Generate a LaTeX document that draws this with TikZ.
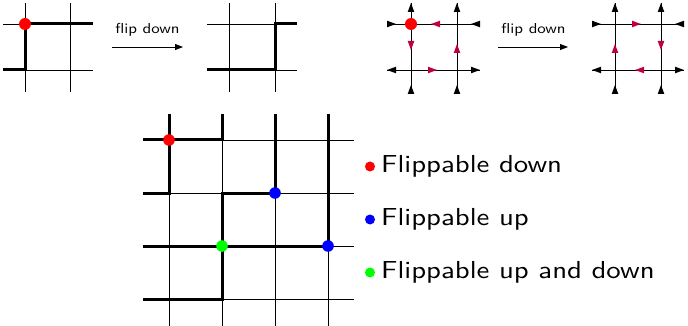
\documentclass[tikz,border=0pt]{standalone}
\usepackage{graphicx}
\usepackage{fontspec}
\newfontfamily\lmsten{lmsans10-regular.otf}
\usetikzlibrary{arrows.meta}
\newcommand\ahd[3][black]{\fill[#1,shift={(#2)},rotate=#3] (0,0) -- (-9,3.3) -- (-9,-3.3) -- cycle;}
\newcommand\wide[1]{\scalebox{1.17}[1]{#1}}
\begin{document}
\begin{tikzpicture}[x=1pt,y=-1pt,
  gridln/.style={line width=0.9pt,black},
  pathln/.style={line width=3pt,black},
  flip/.style={line width=0.8pt,-{Triangle[length=8pt,width=6pt]}},
  fliptext/.style={font=\lmsten\fontsize{14.4}{17}\selectfont,inner sep=0pt,anchor=base},
  legtext/.style={font=\lmsten\fontsize{24.6}{29}\selectfont,inner sep=0pt,anchor=base west},
  rev/.style={purple}]
\useasboundingbox (0,0) rectangle (688,326);

% ---- panel 1
\foreach \x in {25,70} \draw[gridln] (\x,3) -- (\x,92);
\foreach \y in {24,70} \draw[gridln] (3,\y) -- (93,\y);
\draw[pathln] (3,70) -- (25,70) -- (25,24) -- (93,24);
\fill[red] (25,24) circle (6);

% arrow 1
\coordinate (a1s) at (112,47); \coordinate (a1e) at (183,47);
\draw[flip] (a1s) -- (a1e);
\node[fliptext] (t1) at (147.5,33.3) {\wide{flip down}};

% ---- panel 2
\foreach \x in {229,275} \draw[gridln] (\x,3) -- (\x,92);
\foreach \y in {24,70} \draw[gridln] (207,\y) -- (297,\y);
\draw[pathln] (207,70) -- (275,70) -- (275,24) -- (297,24);

% ---- panel 3
\foreach \x in {411,457} {
  \draw[gridln] (\x,3) -- (\x,94);
  \ahd{\x,3}{90}
  \ahd{\x,85}{90}
}
\foreach \y in {24,70} \draw[gridln] (387,\y) -- (480,\y);
\ahd{396,24}{0}
\ahd{471,24}{180}
\ahd{387,70}{180}
\ahd{480,70}{0}
\ahd[rev]{431,24}{180}
\ahd[rev]{411,50}{270}
\ahd[rev]{457,44}{90}
\ahd[rev]{437,70}{0}
\fill[red] (411,24) circle (6);

% arrow 2
\coordinate (a2s) at (498,47); \coordinate (a2e) at (568,47);
\draw[flip] (a2s) -- (a2e);
\node[fliptext] (t2) at (533.5,33.3) {\wide{flip down}};

% ---- panel 4
\foreach \x in {615,661} {
  \draw[gridln] (\x,3) -- (\x,94);
  \ahd{\x,3}{90}
  \ahd{\x,85}{90}
}
\foreach \y in {24,70} \draw[gridln] (592,\y) -- (684,\y);
\ahd{601,24}{0}
\ahd{675,24}{180}
\ahd{592,70}{180}
\ahd{684,70}{0}
\ahd[rev]{641,24}{0}
\ahd[rev]{615,44}{90}
\ahd[rev]{661,50}{270}
\ahd[rev]{635,70}{180}

% ---- main grid
\foreach \x in {169,222,275,328} \draw[gridln] (\x,114) -- (\x,326);
\foreach \y in {140,193,246,299} \draw[gridln] (143,\y) -- (354,\y);
\draw[pathln] (143,193) -- (169,193) -- (169,114);
\draw[pathln] (143,140) -- (222,140) -- (222,114);
\draw[pathln] (143,246) -- (222,246) -- (222,193) -- (275,193) -- (275,114);
\draw[pathln] (143,299) -- (222,299) -- (222,246) -- (328,246) -- (328,114);
\fill[red] (169,140) circle (5.8);
\fill[blue] (275,193) circle (5.8);
\fill[blue] (328,246) circle (5.8);
\fill[green] (222,246) circle (5.8);

% ---- legend
\fill[red] (370,166.5) circle (5);
\node[legtext] (l1) at (381,172.7) {\wide{Flippable down}};
\fill[blue] (370,219.5) circle (5);
\node[legtext] (l2) at (381,225.7) {\wide{Flippable up}};
\fill[green] (370,272.5) circle (5);
\node[legtext] (l3) at (381,278.7) {\wide{Flippable up and down}};
\end{tikzpicture}
\end{document}
